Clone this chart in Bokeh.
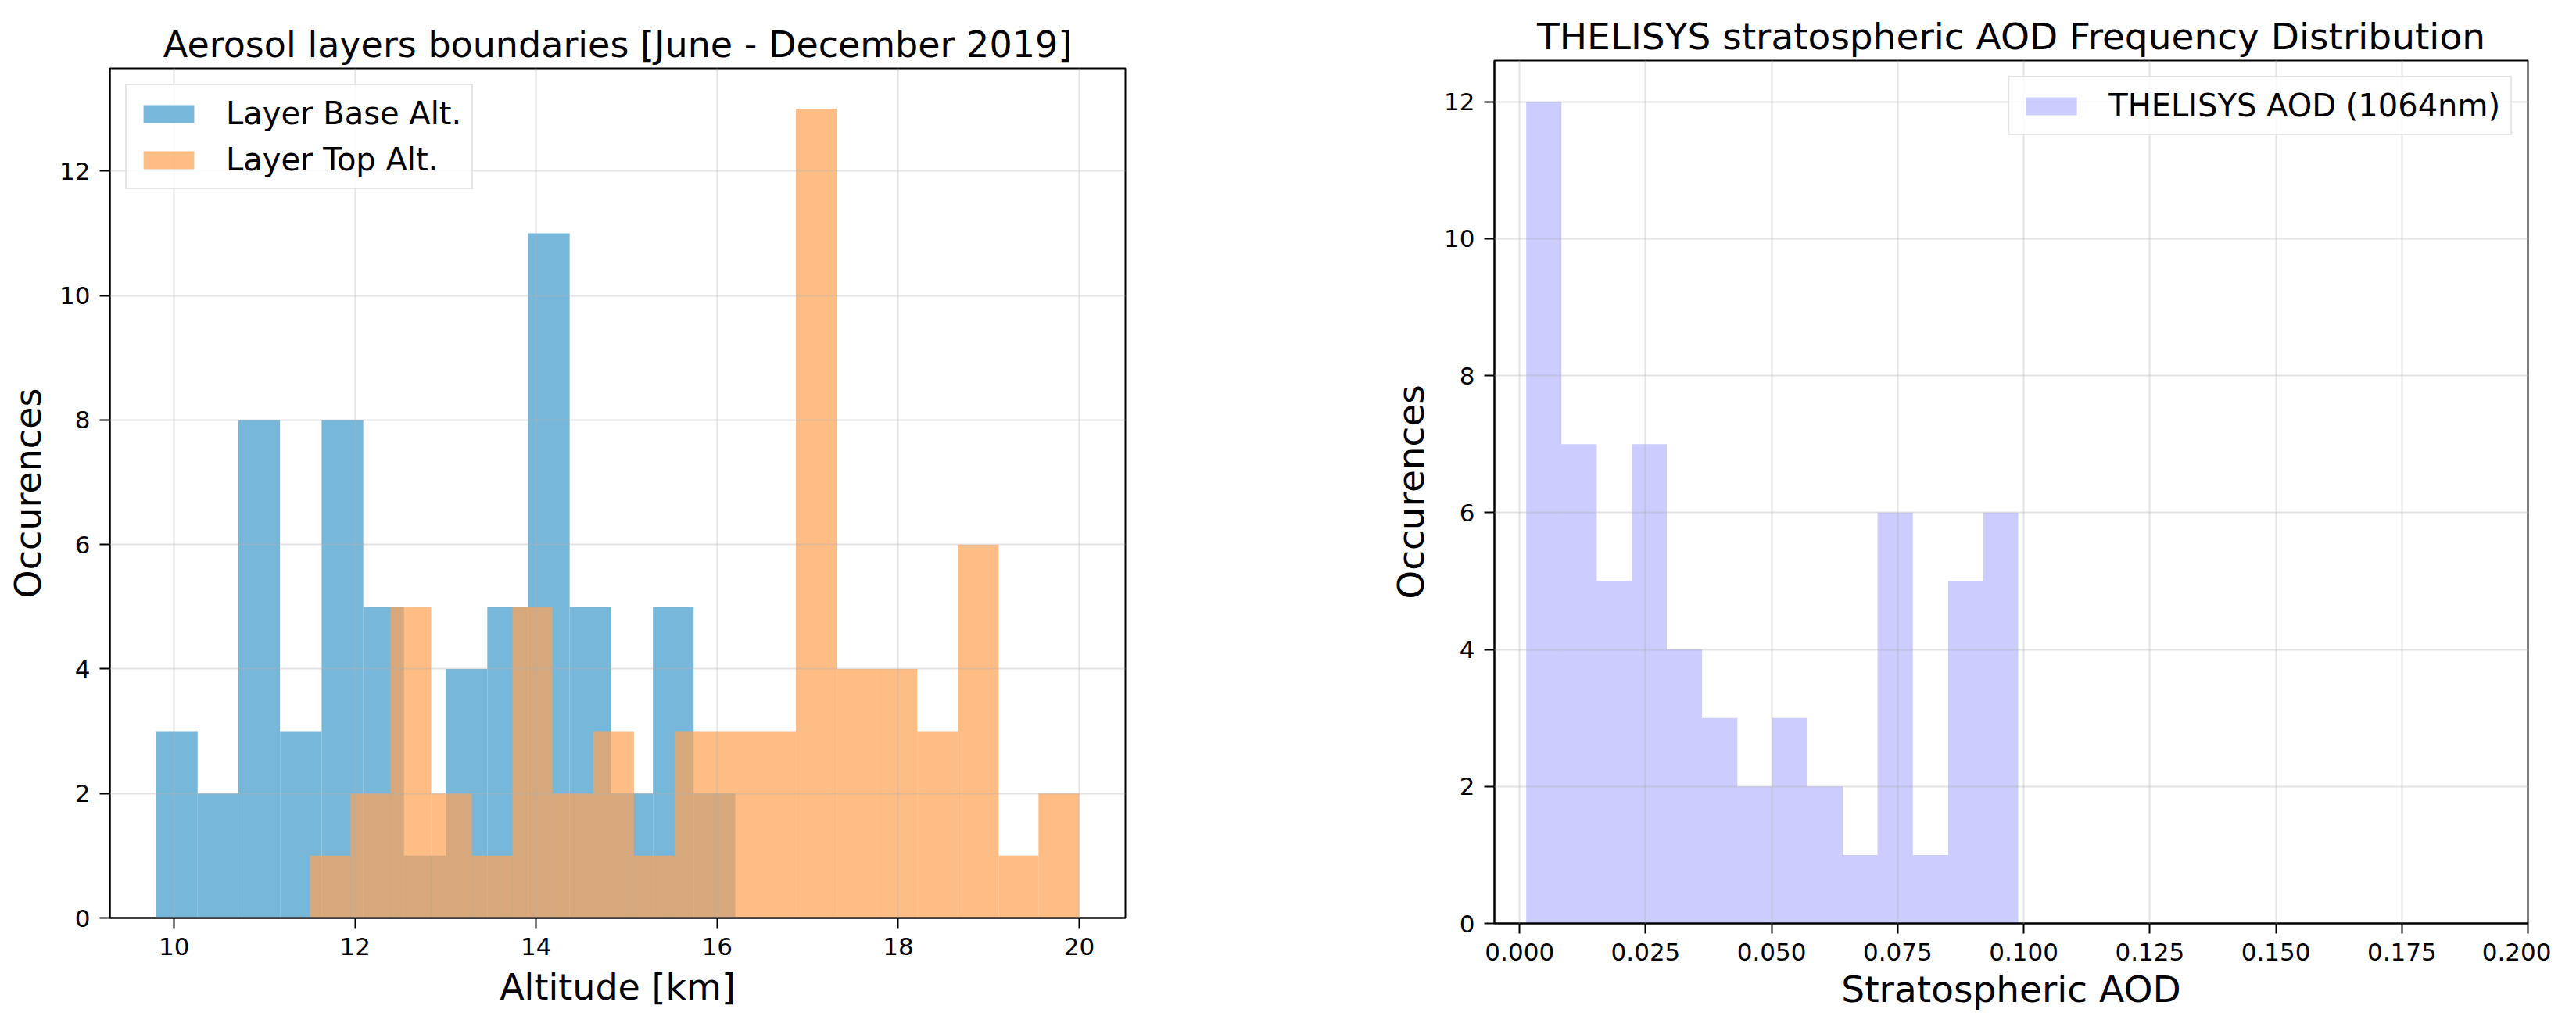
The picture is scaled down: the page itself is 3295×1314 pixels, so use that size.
from bokeh.plotting import figure
from bokeh.models import Range1d, FixedTicker, NumeralTickFormatter
from bokeh.layouts import row, column
from bokeh.embed import file_html
from bokeh.resources import INLINE

# ---- Left panel data: aerosol layer boundaries histogram ----
base_edges = [9.80, 10.26, 10.71, 11.17, 11.63, 12.09, 12.54, 13.00,
              13.46, 13.91, 14.37, 14.83, 15.29, 15.74, 16.20]
base_counts = [3, 2, 8, 3, 8, 5, 1, 4, 5, 11, 5, 2, 5, 2]

top_edges = [11.50, 11.95, 12.39, 12.84, 13.29, 13.74, 14.18, 14.63, 15.08,
             15.53, 15.97, 16.42, 16.87, 17.32, 17.76, 18.21, 18.66, 19.11,
             19.55, 20.00]
top_counts = [1, 2, 5, 2, 1, 5, 2, 3, 1, 3, 3, 3, 13, 4, 4, 3, 6, 1, 2]

alt_ticks = [10, 12, 14, 16, 18, 20]
count_ticks = [0, 2, 4, 6, 8, 10, 12]

# ---- Right panel data: stratospheric AOD histogram ----
aod_edges = [0.0013, 0.0083, 0.0153, 0.0222, 0.0292, 0.0362, 0.0432, 0.0501,
             0.0571, 0.0641, 0.0710, 0.0780, 0.0850, 0.0920, 0.0989]
aod_counts = [12, 7, 5, 7, 4, 3, 2, 3, 2, 1, 6, 1, 5, 6]
aod_ticks = [0.0, 0.025, 0.05, 0.075, 0.1, 0.125, 0.15, 0.175, 0.2]

FONT = "DejaVu Sans"
TICK_FS = "31px"
LEGEND_FS = "40px"


def style(p, big_fs, y_label_standoff, x_label_standoff):
    p.title.text_font = FONT
    p.title.text_font_size = big_fs
    p.title.text_font_style = "normal"
    p.title.align = "center"
    p.title.text_color = "black"
    p.title.standoff = 8
    p.outline_line_color = "black"
    p.outline_line_width = 2
    p.background_fill_color = "white"
    p.border_fill_color = "white"
    for ax in (p.xaxis[0], p.yaxis[0]):
        ax.axis_label_text_font = FONT
        ax.axis_label_text_font_size = big_fs
        ax.axis_label_text_font_style = "normal"
        ax.axis_label_text_color = "black"
        ax.major_label_text_font = FONT
        ax.major_label_text_font_size = TICK_FS
        ax.major_label_text_color = "black"
        ax.major_tick_out = 13
        ax.major_tick_in = 0
        ax.major_tick_line_width = 2
        ax.major_tick_line_color = "black"
        ax.minor_tick_line_color = None
        ax.axis_line_color = "black"
        ax.axis_line_width = 2
    p.xaxis[0].major_label_standoff = 12
    p.yaxis[0].major_label_standoff = 12
    p.xaxis[0].axis_label_standoff = x_label_standoff
    p.yaxis[0].axis_label_standoff = y_label_standoff
    for g in (p.xgrid[0], p.ygrid[0]):
        g.grid_line_color = "#b0b0b0"
        g.grid_line_alpha = 0.35
        g.grid_line_width = 2
        g.level = "guide"


def style_legend(p, loc):
    lg = p.legend[0]
    lg.location = loc
    lg.margin = 20
    lg.padding = 13
    lg.label_text_font = FONT
    lg.label_text_font_size = LEGEND_FS
    lg.label_text_color = "black"
    lg.glyph_width = 81
    lg.glyph_height = 29
    lg.label_height = 45
    lg.label_standoff = 33
    lg.spacing = 13
    lg.border_line_color = "#cccccc"
    lg.border_line_width = 2
    lg.background_fill_alpha = 0.8


# ---------------- Left figure ----------------
# frame: 1299 x 1087, borders L140 R20 T87 B132
p1 = figure(width=1459, height=1306,
            x_range=Range1d(9.29, 20.51), y_range=Range1d(0, 13.65),
            min_border_left=140, min_border_right=20,
            min_border_top=87, min_border_bottom=132,
            title="Aerosol layers boundaries [June - December 2019]",
            x_axis_label="Altitude [km]", y_axis_label="Occurences",
            output_backend="svg", toolbar_location=None)

p1.quad(left=base_edges[:-1], right=base_edges[1:], bottom=0, top=base_counts,
        fill_color="#77B8DA", fill_alpha=1.0, line_color=None,
        legend_label="Layer Base Alt.")
p1.quad(left=top_edges[:-1], right=top_edges[1:], bottom=0, top=top_counts,
        fill_color="#FFA152", fill_alpha=0.7, line_color=None,
        legend_label="Layer Top Alt.")

style(p1, "46px", 10, 11)
p1.xaxis.ticker = FixedTicker(ticks=alt_ticks)
p1.yaxis.ticker = FixedTicker(ticks=count_ticks)
style_legend(p1, "top_left")

# ---------------- Right figure ----------------
# frame: 1322 x 1104, borders L452 R30 T77 B125
p2 = figure(width=1804, height=1306,
            x_range=Range1d(-0.005, 0.2), y_range=Range1d(0, 12.6),
            min_border_left=452, min_border_right=30,
            min_border_top=77, min_border_bottom=125,
            title="THELISYS stratospheric AOD Frequency Distribution",
            x_axis_label="Stratospheric AOD", y_axis_label="Occurences",
            output_backend="svg", toolbar_location=None)

p2.quad(left=aod_edges[:-1], right=aod_edges[1:], bottom=0, top=aod_counts,
        fill_color="blue", fill_alpha=0.2, line_color=None,
        legend_label="THELISYS AOD (1064nm)")

style(p2, "47px", 12, 6)
p2.xaxis.ticker = FixedTicker(ticks=aod_ticks)
p2.xaxis.formatter = NumeralTickFormatter(format="0.000")
p2.yaxis.ticker = FixedTicker(ticks=count_ticks)
style_legend(p2, "top_right")

# nest each figure so the row does not align their frames
layout = row(column(p1), column(p2))
open("out.html", "w").write(file_html(layout, INLINE))
